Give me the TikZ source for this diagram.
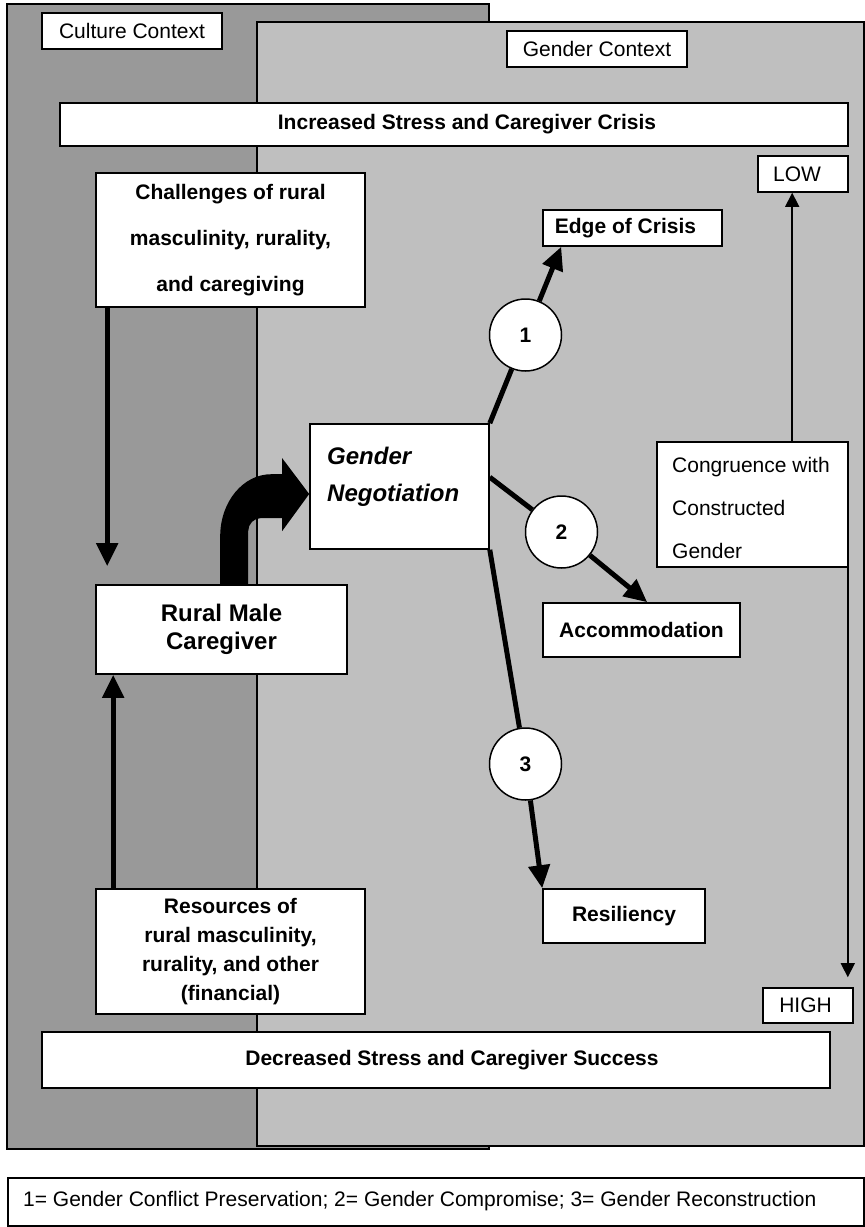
\documentclass[tikz,border=0pt]{standalone}
\usepackage{fontspec}
\setmainfont{Liberation Sans}
\usetikzlibrary{arrows.meta,calc}
\definecolor{culturegray}{gray}{0.6}
\definecolor{gendergray}{gray}{0.75}
\begin{document}
\begin{tikzpicture}[x=1pt,y=-1pt,
  txt/.style={font=\fontsize{21}{25}\selectfont},
  box/.style={draw, fill=white, line width=1.6pt, inner sep=0pt, txt},
  boldbox/.style={box, font=\fontsize{21}{25}\selectfont\bfseries},
  numcircle/.style={circle, draw, fill=white, line width=1.5pt, minimum size=72pt,
    inner sep=0pt, font=\fontsize{21}{25}\selectfont\bfseries},
  heavy/.style={line width=5pt},
  heavyarrow/.style={line width=5pt, -{Triangle[length=23pt,width=21pt]}},
  thinarrow/.style={line width=1.5pt, -{Triangle[length=14pt,width=14pt]}},
]
\useasboundingbox (0,0) rectangle (865,1227);

% contexts
\draw[line width=1.6pt, fill=culturegray] (7,4) rectangle (489,1149);
\draw[line width=1.6pt, fill=gendergray] (257,22) rectangle (864,1146);

\node[box, minimum width=180pt, minimum height=36pt] (culture) at (132,31) {Culture Context};
\node[box, minimum width=180pt, minimum height=36pt] (gender) at (597,49) {Gender Context};

% stress bands
\node[boldbox, minimum width=788pt, minimum height=43pt] (incr) at (454,124.5)
  {\hspace*{26pt}Increased Stress and Caregiver Crisis};
\node[boldbox, minimum width=788pt, minimum height=56pt] (decr) at (436,1060)
  {\hspace*{32pt}Decreased Stress and Caregiver Success};

% left column
\node[boldbox, minimum width=269pt, minimum height=134pt, align=center,
  font=\fontsize{21}{46}\selectfont\bfseries] (chal) at (230.5,240)
  {Challenges of rural\\masculinity, rurality,\\and caregiving};
\node[boldbox, minimum width=251pt, minimum height=89pt, align=center,
  font=\fontsize{24}{28}\selectfont\bfseries] (rmc) at (221.5,629.5)
  {Rural Male\\Caregiver};
\node[boldbox, minimum width=269pt, minimum height=125pt, align=center,
  font=\fontsize{21}{29}\selectfont\bfseries] (res) at (230.5,951.5)
  {Resources of\\rural masculinity,\\rurality, and other\\(financial)};

% negotiation
\node[box, minimum width=179pt, minimum height=125pt] (gn) at (399.5,486.5) {};
\node[anchor=west, align=left, inner sep=0pt,
  font=\fontsize{24}{37}\selectfont\bfseries\itshape] (gnText) at (327,476.5)
  {Gender\\Negotiation};

% outcomes
\node[boldbox, minimum width=179pt, minimum height=36pt] (edge) at (632.5,228)
  {Edge of Crisis\hspace*{14pt}};
\node[boldbox, minimum width=197pt, minimum height=54pt] (acc) at (641.5,630) {Accommodation};
\node[boldbox, minimum width=162pt, minimum height=54pt] (resil) at (624,916) {Resiliency};

% congruence scale
\node[box, minimum width=90pt, minimum height=36pt] (low) at (803,174) {LOW\hspace*{12pt}};
\node[box, minimum width=90pt, minimum height=35pt] (high) at (808,1005.5) {HIGH\hspace*{5pt}};
\node[box, minimum width=191pt, minimum height=125pt] (cong) at (752.5,504.5) {};
\node[anchor=west, align=left, inner sep=0pt, font=\fontsize{21}{43}\selectfont]
  (congText) at (672,508) {Congruence with\\Constructed\\Gender};

% numbered paths
\node[numcircle] (c1) at (525.5,335) {1};
\node[numcircle] (c2) at (561.5,532) {2};
\node[numcircle] (c3) at (525.5,764) {3};

\draw[heavy] (gn.north east) -- (c1);
\draw[heavyarrow] (c1) -- ($(edge.south west)+(19,0)$);
\draw[heavy] ($(gn.north east)+(0,54)$) -- (c2);
\draw[heavyarrow] (c2) -- ($(acc.north west)+(105,0)$);
\draw[heavy] (gn.south east) -- (c3);
\draw[heavyarrow] (c3) -- (resil.north west);

% left column arrows
\draw[heavyarrow] ($(chal.south west)+(12,0)$) -- ($(rmc.north west)+(12,-18)$);
\draw[heavyarrow] ($(res.north west)+(18,0)$) -- ($(rmc.south west)+(18,0)$);

% bent arrow from caregiver to negotiation
\coordinate (bendStart) at ($(rmc.north west)+(125,0)$);
\coordinate (bendTip) at ($(gn.west)+(0,7.5)$);
\fill (bendStart) -- ++(0,-48)
  arc[start angle=180, end angle=90, x radius=51pt, y radius=62pt]
  -- ++(11,0) -- ++(0,-16) -- (bendTip) -- ++(-27,37) -- ++(0,-13) -- ++(-21,0)
  arc[start angle=90, end angle=180, radius=13pt] -- ++(0,54) -- cycle;

% congruence arrows
\draw[thinarrow] ($(cong.north west)+(136,0)$) -- ($(low.south west)+(35,0)$);
\draw[thinarrow] ($(cong.south east)+(-1,-17)$) -- ($(high.north east)+(-6,-10)$);

% legend
\draw[line width=1.6pt, fill=white] (8,1178) rectangle (864,1226);
\node[anchor=west, inner sep=0pt, txt] (legend) at (23,1201)
  {1= Gender Conflict Preservation; 2= Gender Compromise; 3= Gender Reconstruction};
\end{tikzpicture}
\end{document}
